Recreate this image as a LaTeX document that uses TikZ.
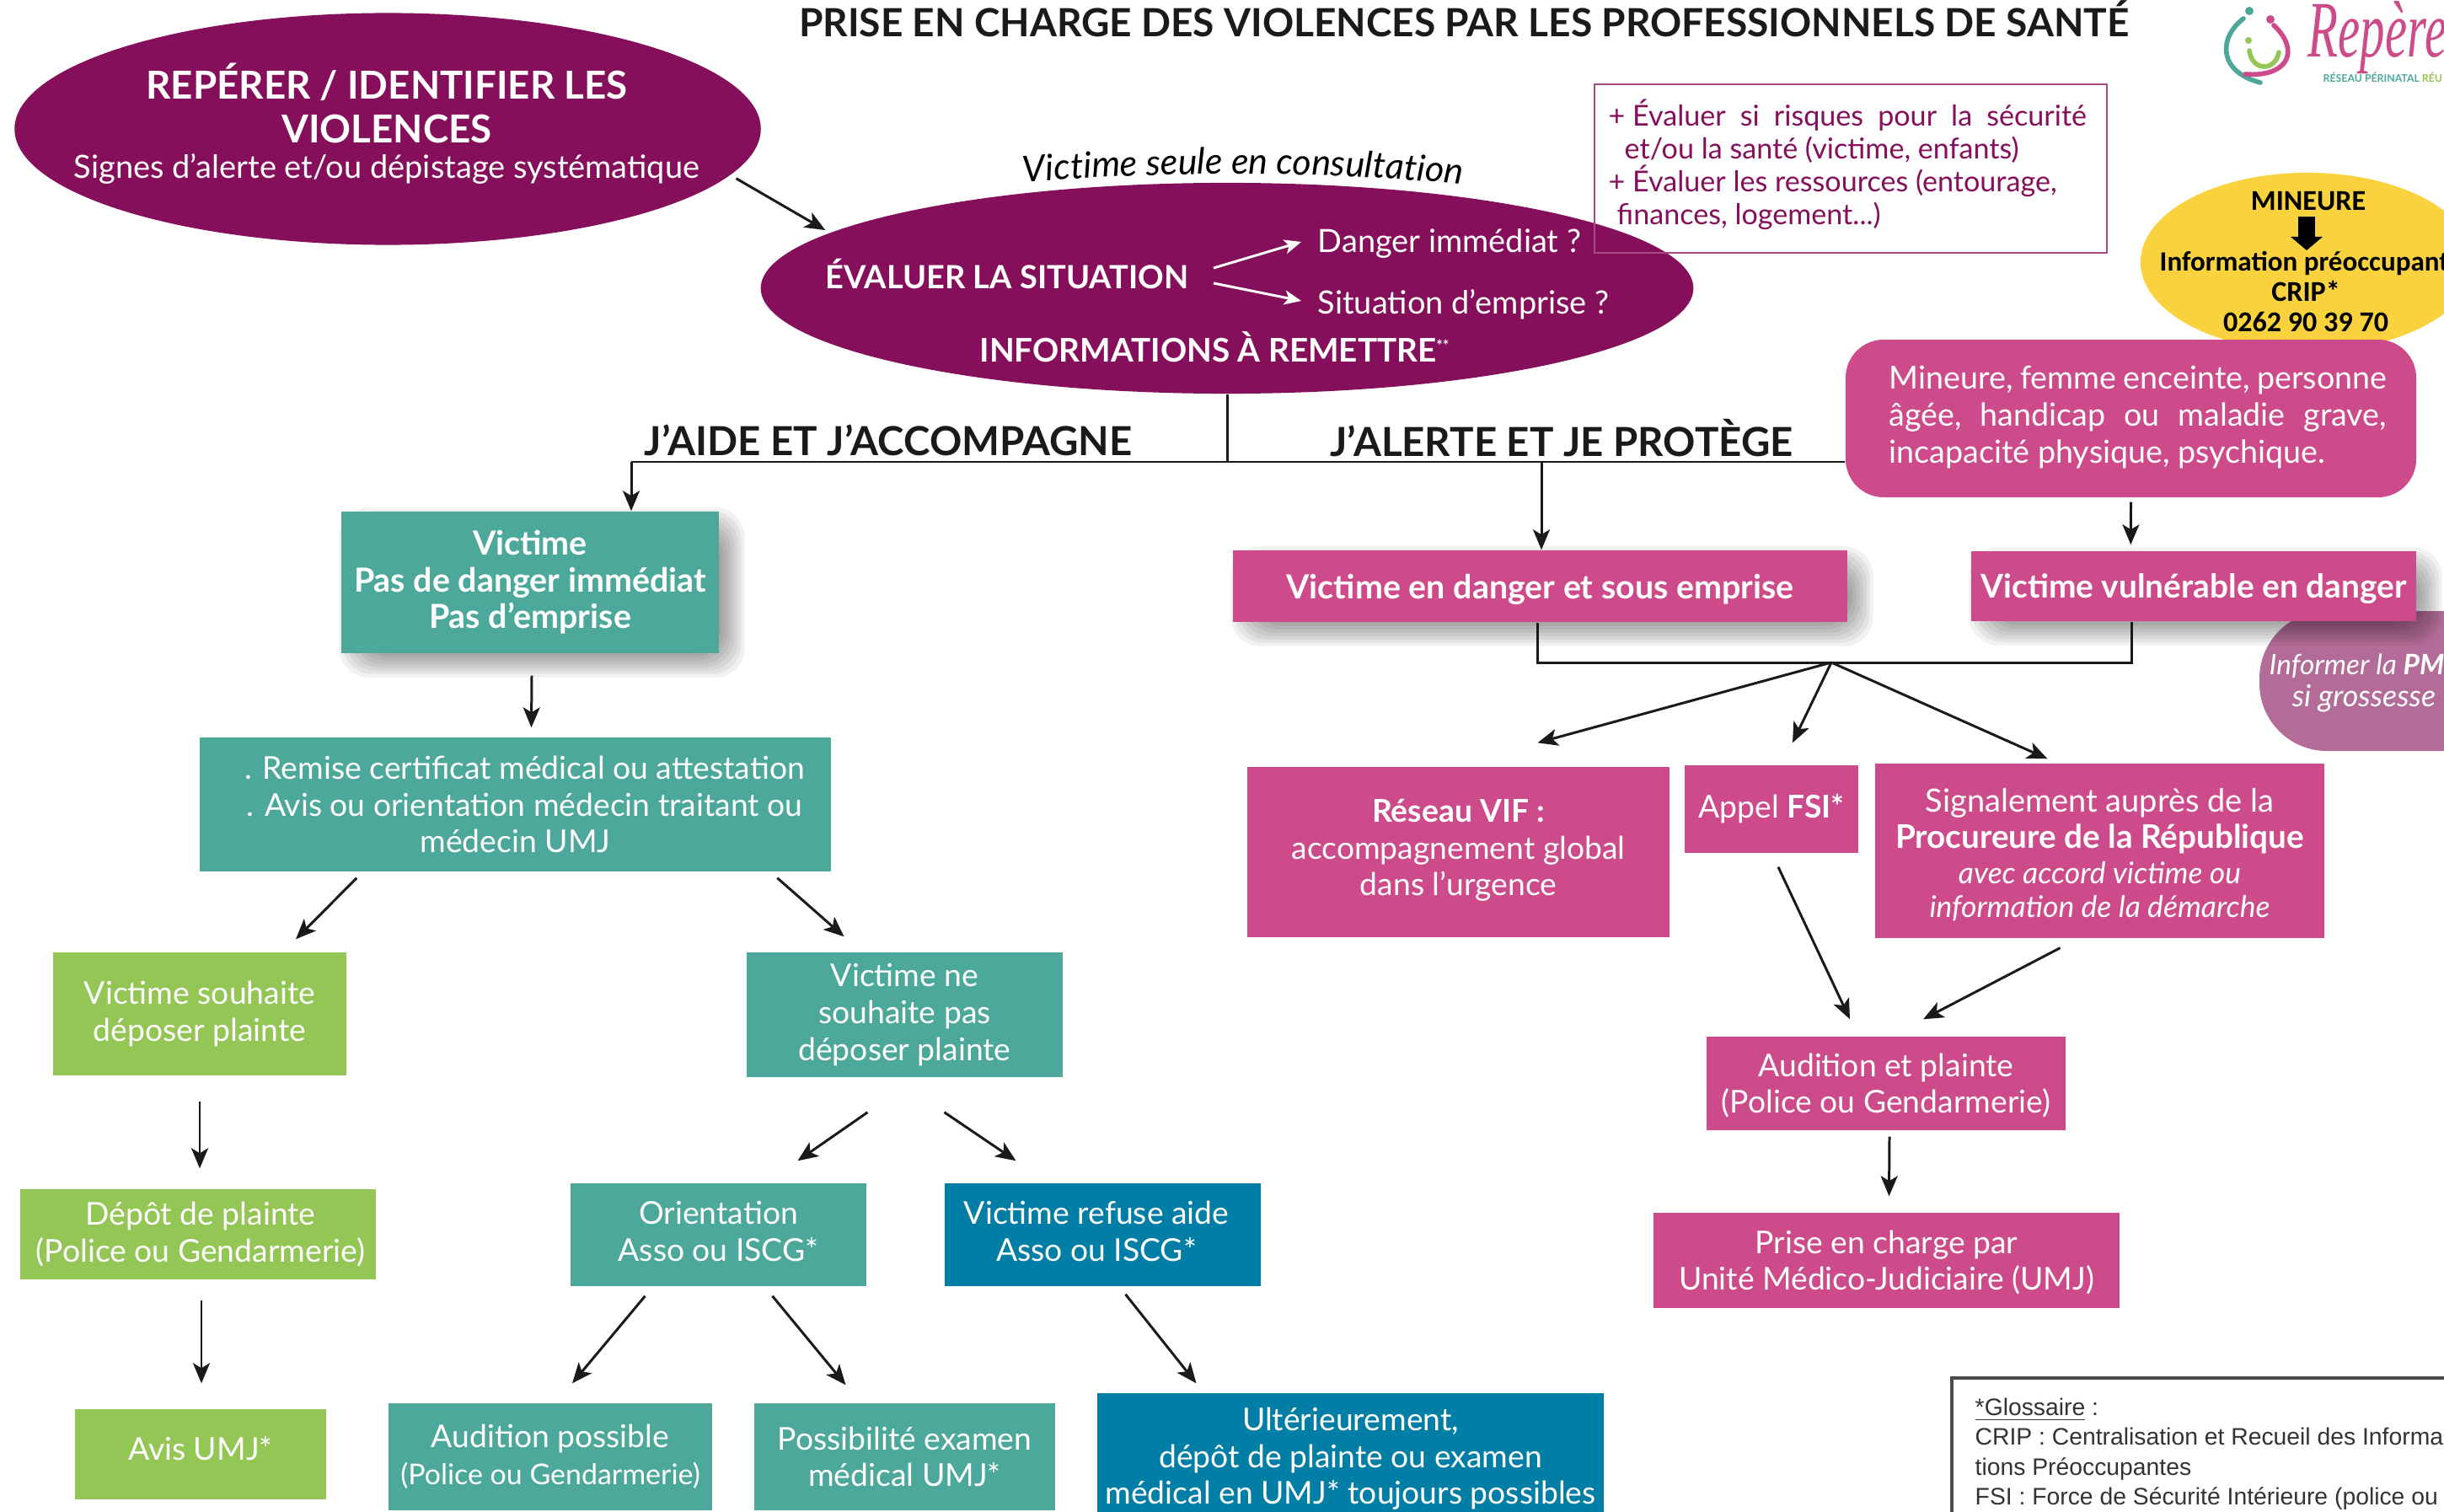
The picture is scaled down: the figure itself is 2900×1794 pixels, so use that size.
\documentclass[tikz,border=0pt]{standalone}
\usepackage{fontspec}
\setmainfont{Lato}
\newfontfamily\glossfont{Liberation Sans}
\newfontfamily\crlfont{Carlito}
\newfontfamily\logofont{Liberation Serif}
\usetikzlibrary{shapes.geometric,arrows.meta,calc,backgrounds,decorations.text}
\definecolor{plum}{HTML}{850F5B}
\definecolor{rosec}{HTML}{CD4A8B}
\definecolor{tealc}{HTML}{4DA89C}
\definecolor{bluec}{HTML}{017EA6}
\definecolor{greenc}{HTML}{94C655}
\definecolor{yellowc}{HTML}{F9D23E}
\definecolor{mauve}{HTML}{B36C97}
\definecolor{inkc}{HTML}{1A1A1A}
\newcommand{\fsz}[2]{\fontsize{#1}{#2}\selectfont}
\newcommand{\softshadow}[3]{%
  \foreach \d in {16,12,8,4,0,-4,-8,-12}{
    \fill[black,opacity=.055,rounded corners=10pt]
      ($(#1.south west)+(#2-\d,#3+\d)$) rectangle ($(#1.north east)+(#2+\d,#3-\d)$);
  }}
\tikzset{
  wh/.style n args={2}{minimum width=#1*0.01cm,minimum height=#2*0.01cm,inner sep=0pt},
  bxbase/.style={align=center,text=white,font=\fsz{10.6}{12.4}},
  tealbox/.style={bxbase,fill=tealc},
  bluebox/.style={bxbase,fill=bluec},
  greenbox/.style={bxbase,fill=greenc},
  rosebox/.style={bxbase,fill=rosec},
  oval/.style={ellipse,fill=plum,inner sep=0pt,text=white,align=center},
  headtxt/.style={inner sep=0pt,text=inkc,font=\fsz{13.5}{15}\bfseries},
  ovaltxt/.style={inner sep=0pt,text=white,font=\fsz{10.8}{12}},
  boxtxt/.style={bxbase,inner sep=0pt},
  arr/.style={draw=inkc,line width=0.85pt,-{Stealth[length=0.24cm,width=0.2cm,inset=0.06cm]}},
  warr/.style={draw=white,line width=0.85pt,-{Stealth[length=0.2cm,width=0.17cm,inset=0.05cm]}},
  link/.style={draw=inkc,line width=0.85pt},
}
\begin{document}
\begin{tikzpicture}[x=0.01cm,y=-0.01cm]
\useasboundingbox (0,0) rectangle (2900,1794);
\clip (0,0) rectangle (2900,1794);

% ---------- nodes ----------
\node[headtxt,font=\fsz{13.1}{15}\bfseries] (title) at (1737,22) {PRISE EN CHARGE DES VIOLENCES PAR LES PROFESSIONNELS DE SANTÉ};

\node[oval,minimum width=8.85cm,minimum height=2.75cm] (e1) at (460,153) {};
\node[inner sep=0pt,text=white,align=center,font=\fsz{13}{14.8}\bfseries] (e1a) at (459,122) {REPÉRER / IDENTIFIER LES\\VIOLENCES};
\node[inner sep=0pt,text=white,font=\fsz{10.8}{12}] (e1b) at (459,200) {Signes d’alerte et/ou dépistage systématique};

\node[oval,minimum width=11.06cm,minimum height=2.5cm] (e2) at (1456,342) {};
\node[ovaltxt,font=\fsz{10.8}{12}\bfseries] (eval) at (1195,325) {ÉVALUER LA SITUATION};
\node[ovaltxt,anchor=west] (dang) at (1563,289) {Danger immédiat ?};
\node[ovaltxt,anchor=west] (empr) at (1563,361) {Situation d’emprise ?};
\node[ovaltxt,font=\fsz{11}{12}\bfseries] (info) at (1441,412) {INFORMATIONS À REMETTRE\raisebox{0.35em}{\fsz{5}{6}**}};

\path[postaction={decorate},decoration={text along path,text align=center,
  text={|\fsz{12.2}{14}\itshape|Victime seule en consultation}}]
  (1190,219) .. controls (1350,202) and (1600,202) .. (1760,222);

\node[draw=plum!75!white,line width=0.7pt,minimum width=6.08cm,minimum height=2cm,inner sep=0pt] (evalbox) at (2196,200) {};
\node[inner sep=0pt,anchor=west,align=left,text=plum,font=\fsz{9.7}{11.1}] (evaltxt) at (1908,195)
  {\hbox to 5.67cm{+ Évaluer\hfil si\hfil risques\hfil pour\hfil la\hfil sécurité}\\
   \hspace*{0.19cm}et/ou la santé (victime, enfants)\\
   + Évaluer les ressources (entourage,\\
   \hspace*{0.1cm}finances, logement...)};

\node[ellipse,fill=yellowc,minimum width=3.96cm,minimum height=2.12cm,inner sep=0pt] (yel) at (2738,311) {};
\node[inner sep=0pt,text=black,font=\crlfont\bfseries\fsz{9.7}{11}] (mineure) at (2739,239) {MINEURE};
\node[inner sep=0pt,text=black,font=\crlfont\bfseries\fsz{9.4}{11},anchor=west] (infop) at (2562,312) {Information préoccupant};
\node[inner sep=0pt,text=black,font=\crlfont\bfseries\fsz{9.7}{11}] (crip) at (2736,345) {CRIP*};
\node[inner sep=0pt,text=black,font=\crlfont\bfseries\fsz{9.7}{11}] (tel) at (2736,382) {0262 90 39 70};

\node[rosebox,wh={677}{187},rounded corners=0.45cm] (vulnd) at (2528.5,496.5) {};
\node[inner sep=0pt,text=white,align=left,font=\fsz{10.7}{12.4}] (vulnt) at (2537,495)
  {\hbox to 5.9cm{Mineure,\hfil femme\hfil enceinte,\hfil personne}\\
   \hbox to 5.9cm{âgée,\hfil handicap\hfil ou\hfil maladie\hfil grave,}\\
   incapacité physique, psychique.};

\node[headtxt] (aide) at (1054,522) {J’AIDE ET J’ACCOMPAGNE};
\node[headtxt] (alerte) at (1853,520) {J’ALERTE ET JE PROTÈGE};

\node[tealbox,wh={448}{168},font=\fsz{11.2}{12.4}\bfseries] (victime) at (629,691) {Victime\\Pas de danger immédiat\\Pas d’emprise};
\node[tealbox,wh={749}{159}] (remise) at (611.5,954.5) {\hspace*{0.22cm}. Remise certificat médical ou attestation\\\hspace*{0.22cm}. Avis ou orientation médecin traitant ou\\médecin UMJ};
\node[greenbox,wh={348}{146}] (souhaite) at (237,1203) {Victime souhaite\\déposer plainte};
\node[tealbox,wh={375}{148}] (nesouh) at (1073.5,1204) {Victime ne\\souhaite pas\\déposer plainte};
\node[greenbox,wh={422}{107}] (depot) at (235,1464.5) {};
\node[boxtxt] (depott) at (238,1464.5) {Dépôt de plainte\\(Police ou Gendarmerie)};
\node[greenbox,wh={298}{107}] (avis) at (238,1725.5) {};
\node[boxtxt] (avist) at (238,1719) {Avis UMJ*};
\node[tealbox,wh={351}{122}] (orient) at (852.5,1465) {};
\node[boxtxt] (orientt) at (852.5,1461) {Orientation\\Asso ou ISCG*};
\node[bluebox,wh={375}{122}] (refuse) at (1308.5,1465) {};
\node[boxtxt] (refuset) at (1301,1461) {Victime refuse aide\\Asso ou ISCG*};
\node[tealbox,wh={384}{127}] (audpos) at (653,1728.5) {Audition possible\\{\fsz{9.65}{11}(Police ou Gendarmerie)}};
\node[tealbox,wh={357}{127}] (poss) at (1073.5,1728.5) {Possibilité examen\\médical UMJ*};
\node[bluebox,wh={601}{144}] (ult) at (1602.5,1725) {};
\node[boxtxt] (ultt) at (1602.5,1731) {Ultérieurement,\\dépôt de plainte ou examen\\médical en UMJ* toujours possibles};

\node[rosebox,wh={729}{85}] (danger) at (1827.5,695.5) {};
\node[boxtxt,font=\fsz{11.2}{12.4}\bfseries] (dangert) at (1827.5,699) {Victime en danger et sous emprise};
\node[rosebox,wh={528}{83}] (vuln) at (2603,695.5) {};
\node[boxtxt,font=\fsz{11.05}{12.4}\bfseries] (vulnc) at (2603,699) {Victime vulnérable en danger};
\node[rosebox,wh={501}{202}] (vif) at (1730.5,1011) {};
\node[boxtxt] (vift) at (1730.5,1009) {\textbf{Réseau VIF :}\\accompagnement global\\dans l’urgence};
\node[rosebox,wh={206}{104}] (fsi) at (2102,960) {Appel \textbf{FSI*}};
\node[rosebox,wh={533}{207}] (sig) at (2491.5,1009.5) {};
\node[boxtxt,font=\fsz{10.8}{12.3}] (sigt) at (2491.5,1014) {Signalement auprès de la\\{\fsz{11}{12.3}\bfseries Procureure de la République}\\[-0.5pt]{\fsz{10.1}{11.4}\itshape avec accord victime ou}\\[-1pt]{\fsz{10.1}{11.4}\itshape information de la démarche}};
\node[rosebox,wh={426}{111}] (audpl) at (2238,1285.5) {};
\node[boxtxt] (audplt) at (2238,1288) {Audition et plainte\\(Police ou Gendarmerie)};
\node[rosebox,wh={553}{113}] (prise) at (2238.5,1495.5) {};
\node[boxtxt] (priset) at (2238.5,1498) {Prise en charge par\\Unité Médico-Judiciaire (UMJ)};

\node[draw=black!70,line width=1.2pt,minimum width=6cm,minimum height=3cm,inner sep=0pt,anchor=north west] (glos) at (2314,1633) {};
\node[inner sep=0pt,anchor=north west,align=left,text=black!80,font=\glossfont\fsz{8.05}{10.1}] (glost) at (2343,1658)
  {\underline{*Glossaire} :\\CRIP : Centralisation et Recueil des Informa\\tions Préoccupantes\\FSI : Force de Sécurité Intérieure (police ou};

% ---------- logo ----------
\fill[tealc] (2669,13) circle (5);
\fill[rosec] (2694,23) circle (5);
\fill[greenc] (2668,48) circle (4);
\draw[tealc,line width=1.6pt,line cap=round] (2662,22) .. controls (2632,45) and (2632,85) .. (2682,98);
\draw[rosec,line width=1.6pt,line cap=round] (2698,30) .. controls (2730,60) and (2715,92) .. (2664,88);
\draw[greenc,line width=1.6pt,line cap=round] (2669,60) .. controls (2672,85) and (2700,85) .. (2704,62);
\node[inner sep=0pt,anchor=west,text=rosec,font=\logofont\itshape\fsz{27}{30}] (logo) at (2738,45) {\scalebox{0.62}[1]{Repère}};
\node[inner sep=0pt,anchor=west,text=tealc,font=\bfseries\fsz{3.5}{4}] (logos) at (2756,92) {RÉSEAU PÉRINATAL {\color{greenc}RÉU}};

% ---------- background: PMI blob and shadows ----------
\begin{pgfonlayer}{background}
\fill[white] (0,0) rectangle (2900,1794);
\fill[mauve,rounded corners=0.8cm] (2681,725) rectangle (3050,891);
\softshadow{victime}{14}{12}
\softshadow{danger}{14}{12}
\softshadow{vuln}{14}{12}
\end{pgfonlayer}
\node[inner sep=0pt,anchor=west,text=white,font=\fsz{9.5}{11.3}\itshape] (pmi) at (2692,790) {Informer la \textbf{PM}};
\node[inner sep=0pt,text=white,font=\fsz{10.2}{11.3}\itshape] (pmib) at (2805,829) {si grossesse};

% ---------- connectors ----------
\coordinate (jl) at (749,548);
\coordinate (jr) at (1829,548);
\draw[arr] ($(e1.south east)+(100,-39)$) -- ($(e2.north west)+(-85,20)$);
\draw[warr] ($(eval.east)+(29,-7)$) -- ($(dang.west)+(-19,-2)$);
\draw[warr] ($(eval.east)+(29,11)$) -- ($(empr.west)+(-19,-4)$);
\draw[link] (e2.south) -- (e2.south |- jl);
\draw[link] (jl) -- (vulnd.west |- jl);
\draw[arr] (jl) -- (victime.north -| jl);
\draw[arr] (jr) -- (danger.north -| jr);
\draw[arr] ($(vulnd.south)+(0,5)$) -- ($(vuln.north west)+(190,-7)$);

\draw[arr] ($(victime.south)+(2,26)$) -- ($(remise.north)+(19,-11)$);
\draw[arr] ($(remise.south west)+(187,7)$) -- ($(souhaite.north)+(114,-15)$);
\draw[arr] ($(remise.south west)+(686,7)$) -- ($(nesouh.north)+(-72,-18)$);
\draw[arr] ($(souhaite.south)+(0,30)$) -- ($(depot.north)+(2,-24)$);
\draw[arr] ($(depot.south)+(4,24)$) -- ($(avis.north)+(1,-30)$);
\draw[arr] ($(nesouh.south)+(-44,41)$) -- ($(orient.north)+(94,-26)$);
\draw[arr] ($(nesouh.south)+(47,41)$) -- ($(refuse.north)+(-103,-26)$);
\draw[arr] ($(orient.south)+(-87,11)$) -- ($(audpos.north)+(26,-23)$);
\draw[arr] ($(orient.south)+(64,11)$) -- ($(poss.north)+(-70,-21)$);
\draw[arr] ($(refuse.south)+(27,9)$) -- ($(ult.north)+(-183,-11)$);

\coordinate (bl) at (1824,786);
\coordinate (br) at (2529,786);
\coordinate (hub) at (2173,786);
\draw[link] (danger.south -| bl) -- (bl) -- (br) -- (vuln.south -| br);
\draw[arr] (hub) -- ($(vif.north)+(94,-28)$);
\draw[arr] (hub) -- ($(fsi.north)+(25,-26)$);
\draw[arr] (hub) -- ($(sig.north)+(-62,-5)$);
\draw[arr] ($(fsi.south)+(8,16)$) -- ($(audpl.north)+(-43,-20)$);
\draw[arr] ($(sig.south)+(-47,11)$) -- ($(audpl.north)+(44,-20)$);
\draw[arr] ($(audpl.south)+(4,7)$) -- ($(prise.north)+(3,-19)$);
\draw[line width=0.2cm,draw=black,-{Triangle[length=0.16cm,width=0.37cm]}] ($(mineure.south)+(-2,6)$) -- ($(infop.west)+(175,-15)$);
\end{tikzpicture}
\end{document}
